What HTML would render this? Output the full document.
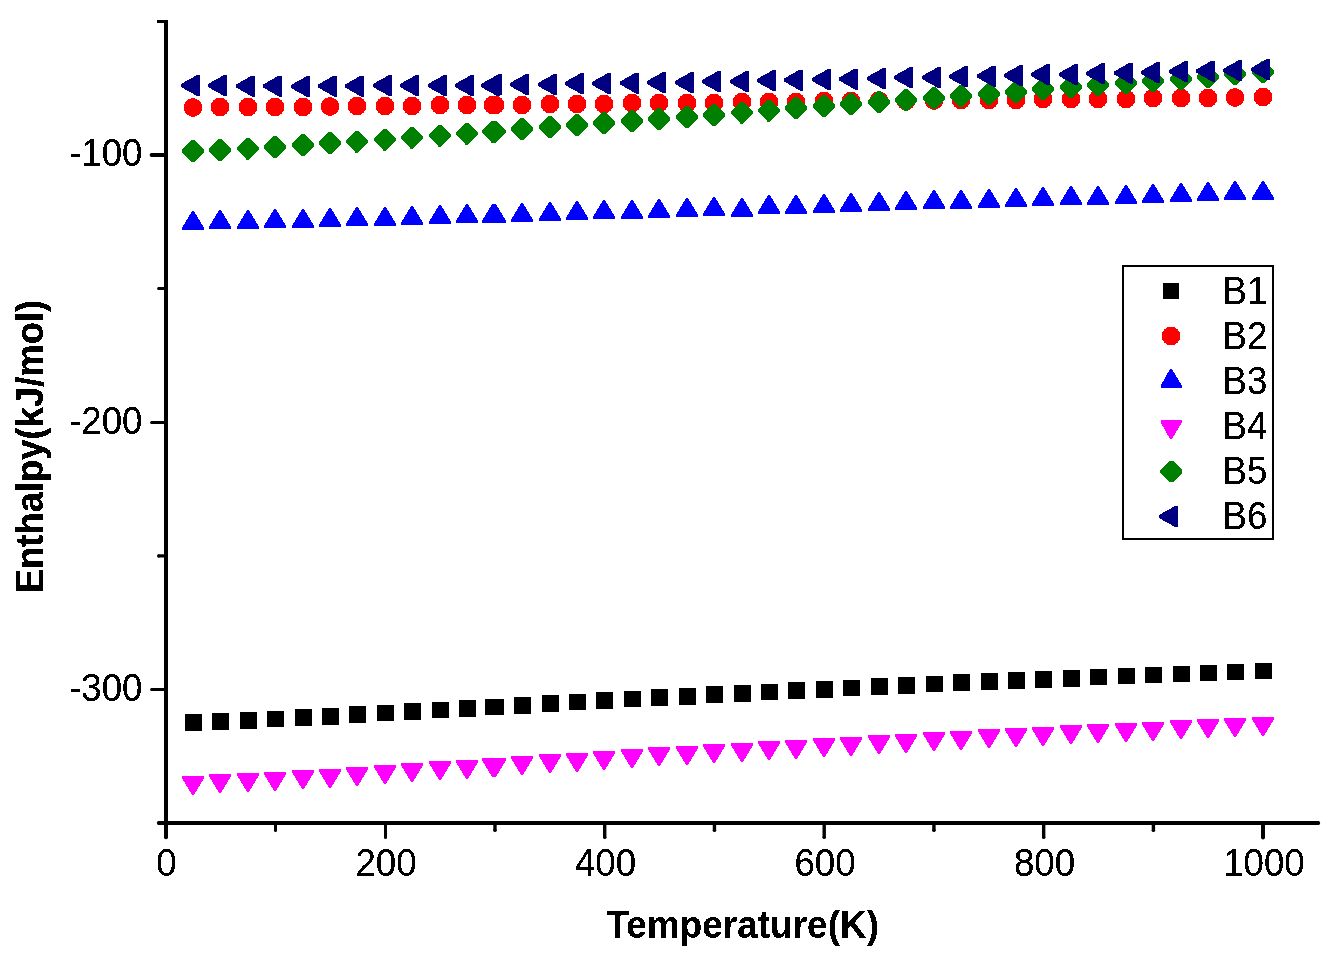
<!DOCTYPE html>
<html lang="en"><head><meta charset="utf-8"><title>Enthalpy vs Temperature</title>
<style>html,body{margin:0;padding:0;background:#fff;}body{width:1342px;height:963px;overflow:hidden;}svg{display:block;}text{font-family:"Liberation Sans",Arial,sans-serif;font-size:36.67px;fill:#000;}.b{font-weight:bold;}</style></head><body>
<svg width="1342" height="963" viewBox="0 0 1342 963">
<defs><filter id="na" x="-2%" y="-10%" width="104%" height="120%" color-interpolation-filters="sRGB"><feComponentTransfer><feFuncA type="discrete" tableValues="0 0 1 1 1"/></feComponentTransfer></filter></defs>
<rect x="0" y="0" width="1342" height="963" fill="#fff"/>
<g fill="#000000" shape-rendering="crispEdges">
<rect x="185.00" y="714.20" width="16.60" height="16.60"/>
<rect x="212.00" y="713.20" width="16.60" height="16.60"/>
<rect x="240.00" y="712.20" width="16.60" height="16.60"/>
<rect x="267.00" y="710.70" width="16.60" height="16.60"/>
<rect x="295.00" y="709.20" width="16.60" height="16.60"/>
<rect x="322.00" y="708.20" width="16.60" height="16.60"/>
<rect x="349.00" y="706.20" width="16.60" height="16.60"/>
<rect x="377.00" y="704.70" width="16.60" height="16.60"/>
<rect x="404.00" y="703.20" width="16.60" height="16.60"/>
<rect x="432.00" y="701.70" width="16.60" height="16.60"/>
<rect x="459.00" y="700.20" width="16.60" height="16.60"/>
<rect x="485.00" y="698.70" width="16.60" height="16.60"/>
<rect x="487.00" y="698.70" width="16.60" height="16.60"/>
<rect x="514.00" y="697.20" width="16.60" height="16.60"/>
<rect x="542.00" y="695.20" width="16.60" height="16.60"/>
<rect x="569.00" y="693.70" width="16.60" height="16.60"/>
<rect x="596.00" y="692.20" width="16.60" height="16.60"/>
<rect x="624.00" y="690.70" width="16.60" height="16.60"/>
<rect x="651.00" y="689.20" width="16.60" height="16.60"/>
<rect x="679.00" y="688.20" width="16.60" height="16.60"/>
<rect x="706.00" y="686.20" width="16.60" height="16.60"/>
<rect x="734.00" y="685.20" width="16.60" height="16.60"/>
<rect x="761.00" y="683.70" width="16.60" height="16.60"/>
<rect x="788.00" y="682.20" width="16.60" height="16.60"/>
<rect x="816.00" y="681.20" width="16.60" height="16.60"/>
<rect x="843.00" y="679.70" width="16.60" height="16.60"/>
<rect x="871.00" y="678.20" width="16.60" height="16.60"/>
<rect x="898.00" y="677.20" width="16.60" height="16.60"/>
<rect x="926.00" y="675.70" width="16.60" height="16.60"/>
<rect x="953.00" y="674.20" width="16.60" height="16.60"/>
<rect x="981.00" y="673.20" width="16.60" height="16.60"/>
<rect x="1008.00" y="672.20" width="16.60" height="16.60"/>
<rect x="1035.00" y="671.20" width="16.60" height="16.60"/>
<rect x="1063.00" y="670.20" width="16.60" height="16.60"/>
<rect x="1090.00" y="668.70" width="16.60" height="16.60"/>
<rect x="1118.00" y="667.70" width="16.60" height="16.60"/>
<rect x="1145.00" y="666.70" width="16.60" height="16.60"/>
<rect x="1173.00" y="665.70" width="16.60" height="16.60"/>
<rect x="1200.00" y="664.70" width="16.60" height="16.60"/>
<rect x="1227.00" y="663.70" width="16.60" height="16.60"/>
<rect x="1255.00" y="662.70" width="16.60" height="16.60"/>
</g>
<g fill="#ff0000" shape-rendering="crispEdges">
<circle cx="193.00" cy="107.50" r="9.30"/>
<circle cx="220.00" cy="107.00" r="9.30"/>
<circle cx="248.00" cy="107.00" r="9.30"/>
<circle cx="275.00" cy="107.00" r="9.30"/>
<circle cx="303.00" cy="107.00" r="9.30"/>
<circle cx="330.00" cy="106.50" r="9.30"/>
<circle cx="357.00" cy="106.00" r="9.30"/>
<circle cx="385.00" cy="106.00" r="9.30"/>
<circle cx="412.00" cy="106.00" r="9.30"/>
<circle cx="440.00" cy="105.00" r="9.30"/>
<circle cx="467.00" cy="105.00" r="9.30"/>
<circle cx="493.00" cy="105.00" r="9.30"/>
<circle cx="495.00" cy="105.00" r="9.30"/>
<circle cx="522.00" cy="105.00" r="9.30"/>
<circle cx="550.00" cy="104.00" r="9.30"/>
<circle cx="577.00" cy="104.00" r="9.30"/>
<circle cx="604.00" cy="104.00" r="9.30"/>
<circle cx="632.00" cy="103.00" r="9.30"/>
<circle cx="659.00" cy="103.00" r="9.30"/>
<circle cx="687.00" cy="103.00" r="9.30"/>
<circle cx="714.00" cy="103.00" r="9.30"/>
<circle cx="742.00" cy="102.00" r="9.30"/>
<circle cx="769.00" cy="102.00" r="9.30"/>
<circle cx="796.00" cy="102.00" r="9.30"/>
<circle cx="824.00" cy="101.00" r="9.30"/>
<circle cx="851.00" cy="101.00" r="9.30"/>
<circle cx="879.00" cy="100.50" r="9.30"/>
<circle cx="906.00" cy="101.00" r="9.30"/>
<circle cx="934.00" cy="100.50" r="9.30"/>
<circle cx="961.00" cy="100.00" r="9.30"/>
<circle cx="989.00" cy="100.00" r="9.30"/>
<circle cx="1016.00" cy="100.00" r="9.30"/>
<circle cx="1043.00" cy="99.00" r="9.30"/>
<circle cx="1071.00" cy="99.00" r="9.30"/>
<circle cx="1098.00" cy="99.00" r="9.30"/>
<circle cx="1126.00" cy="99.00" r="9.30"/>
<circle cx="1153.00" cy="98.00" r="9.30"/>
<circle cx="1181.00" cy="98.00" r="9.30"/>
<circle cx="1208.00" cy="98.00" r="9.30"/>
<circle cx="1235.00" cy="97.50" r="9.30"/>
<circle cx="1263.00" cy="97.00" r="9.30"/>
</g>
<g fill="#0000ff" shape-rendering="crispEdges">
<polygon points="192.00,211.00 194.00,211.00 204.00,228.00 204.00,230.00 182.00,230.00 182.00,228.00"/>
<polygon points="219.00,210.00 221.00,210.00 231.00,227.00 231.00,229.00 209.00,229.00 209.00,227.00"/>
<polygon points="247.00,210.00 249.00,210.00 259.00,227.00 259.00,229.00 237.00,229.00 237.00,227.00"/>
<polygon points="274.00,209.00 276.00,209.00 286.00,226.00 286.00,228.00 264.00,228.00 264.00,226.00"/>
<polygon points="302.00,209.00 304.00,209.00 314.00,226.00 314.00,228.00 292.00,228.00 292.00,226.00"/>
<polygon points="329.00,208.00 331.00,208.00 341.00,225.00 341.00,227.00 319.00,227.00 319.00,225.00"/>
<polygon points="356.00,207.00 358.00,207.00 368.00,224.00 368.00,226.00 346.00,226.00 346.00,224.00"/>
<polygon points="384.00,207.00 386.00,207.00 396.00,224.00 396.00,226.00 374.00,226.00 374.00,224.00"/>
<polygon points="411.00,206.00 413.00,206.00 423.00,223.00 423.00,225.00 401.00,225.00 401.00,223.00"/>
<polygon points="439.00,205.00 441.00,205.00 451.00,222.00 451.00,224.00 429.00,224.00 429.00,222.00"/>
<polygon points="466.00,204.00 468.00,204.00 478.00,221.00 478.00,223.00 456.00,223.00 456.00,221.00"/>
<polygon points="492.00,204.00 494.00,204.00 504.00,221.00 504.00,223.00 482.00,223.00 482.00,221.00"/>
<polygon points="494.00,204.00 496.00,204.00 506.00,221.00 506.00,223.00 484.00,223.00 484.00,221.00"/>
<polygon points="521.00,203.00 523.00,203.00 533.00,220.00 533.00,222.00 511.00,222.00 511.00,220.00"/>
<polygon points="549.00,202.00 551.00,202.00 561.00,219.00 561.00,221.00 539.00,221.00 539.00,219.00"/>
<polygon points="576.00,201.00 578.00,201.00 588.00,218.00 588.00,220.00 566.00,220.00 566.00,218.00"/>
<polygon points="603.00,200.00 605.00,200.00 615.00,217.00 615.00,219.00 593.00,219.00 593.00,217.00"/>
<polygon points="631.00,200.00 633.00,200.00 643.00,217.00 643.00,219.00 621.00,219.00 621.00,217.00"/>
<polygon points="658.00,199.00 660.00,199.00 670.00,216.00 670.00,218.00 648.00,218.00 648.00,216.00"/>
<polygon points="686.00,198.00 688.00,198.00 698.00,215.00 698.00,217.00 676.00,217.00 676.00,215.00"/>
<polygon points="713.00,197.00 715.00,197.00 725.00,214.00 725.00,216.00 703.00,216.00 703.00,214.00"/>
<polygon points="741.00,198.00 743.00,198.00 753.00,215.00 753.00,217.00 731.00,217.00 731.00,215.00"/>
<polygon points="768.00,195.00 770.00,195.00 780.00,212.00 780.00,214.00 758.00,214.00 758.00,212.00"/>
<polygon points="795.00,195.00 797.00,195.00 807.00,212.00 807.00,214.00 785.00,214.00 785.00,212.00"/>
<polygon points="823.00,194.00 825.00,194.00 835.00,211.00 835.00,213.00 813.00,213.00 813.00,211.00"/>
<polygon points="850.00,193.00 852.00,193.00 862.00,210.00 862.00,212.00 840.00,212.00 840.00,210.00"/>
<polygon points="878.00,192.00 880.00,192.00 890.00,209.00 890.00,211.00 868.00,211.00 868.00,209.00"/>
<polygon points="905.00,191.00 907.00,191.00 917.00,208.00 917.00,210.00 895.00,210.00 895.00,208.00"/>
<polygon points="933.00,190.00 935.00,190.00 945.00,207.00 945.00,209.00 923.00,209.00 923.00,207.00"/>
<polygon points="960.00,190.00 962.00,190.00 972.00,207.00 972.00,209.00 950.00,209.00 950.00,207.00"/>
<polygon points="988.00,189.00 990.00,189.00 1000.00,206.00 1000.00,208.00 978.00,208.00 978.00,206.00"/>
<polygon points="1015.00,188.00 1017.00,188.00 1027.00,205.00 1027.00,207.00 1005.00,207.00 1005.00,205.00"/>
<polygon points="1042.00,187.00 1044.00,187.00 1054.00,204.00 1054.00,206.00 1032.00,206.00 1032.00,204.00"/>
<polygon points="1070.00,186.00 1072.00,186.00 1082.00,203.00 1082.00,205.00 1060.00,205.00 1060.00,203.00"/>
<polygon points="1097.00,186.00 1099.00,186.00 1109.00,203.00 1109.00,205.00 1087.00,205.00 1087.00,203.00"/>
<polygon points="1125.00,185.00 1127.00,185.00 1137.00,202.00 1137.00,204.00 1115.00,204.00 1115.00,202.00"/>
<polygon points="1152.00,184.00 1154.00,184.00 1164.00,201.00 1164.00,203.00 1142.00,203.00 1142.00,201.00"/>
<polygon points="1180.00,183.00 1182.00,183.00 1192.00,200.00 1192.00,202.00 1170.00,202.00 1170.00,200.00"/>
<polygon points="1207.00,182.00 1209.00,182.00 1219.00,199.00 1219.00,201.00 1197.00,201.00 1197.00,199.00"/>
<polygon points="1234.00,181.00 1236.00,181.00 1246.00,198.00 1246.00,200.00 1224.00,200.00 1224.00,198.00"/>
<polygon points="1262.00,181.00 1264.00,181.00 1274.00,198.00 1274.00,200.00 1252.00,200.00 1252.00,198.00"/>
</g>
<g fill="#ff00ff" shape-rendering="crispEdges">
<polygon points="182.00,776.00 204.00,776.00 204.00,778.00 194.00,795.00 192.00,795.00 182.00,778.00"/>
<polygon points="209.00,774.00 231.00,774.00 231.00,776.00 221.00,793.00 219.00,793.00 209.00,776.00"/>
<polygon points="237.00,773.00 259.00,773.00 259.00,775.00 249.00,792.00 247.00,792.00 237.00,775.00"/>
<polygon points="264.00,772.00 286.00,772.00 286.00,774.00 276.00,791.00 274.00,791.00 264.00,774.00"/>
<polygon points="292.00,770.00 314.00,770.00 314.00,772.00 304.00,789.00 302.00,789.00 292.00,772.00"/>
<polygon points="319.00,769.00 341.00,769.00 341.00,771.00 331.00,788.00 329.00,788.00 319.00,771.00"/>
<polygon points="346.00,767.00 368.00,767.00 368.00,769.00 358.00,786.00 356.00,786.00 346.00,769.00"/>
<polygon points="374.00,765.00 396.00,765.00 396.00,767.00 386.00,784.00 384.00,784.00 374.00,767.00"/>
<polygon points="401.00,763.00 423.00,763.00 423.00,765.00 413.00,782.00 411.00,782.00 401.00,765.00"/>
<polygon points="429.00,761.00 451.00,761.00 451.00,763.00 441.00,780.00 439.00,780.00 429.00,763.00"/>
<polygon points="456.00,760.00 478.00,760.00 478.00,762.00 468.00,779.00 466.00,779.00 456.00,762.00"/>
<polygon points="482.00,758.00 504.00,758.00 504.00,760.00 494.00,777.00 492.00,777.00 482.00,760.00"/>
<polygon points="484.00,758.00 506.00,758.00 506.00,760.00 496.00,777.00 494.00,777.00 484.00,760.00"/>
<polygon points="511.00,756.00 533.00,756.00 533.00,758.00 523.00,775.00 521.00,775.00 511.00,758.00"/>
<polygon points="539.00,754.00 561.00,754.00 561.00,756.00 551.00,773.00 549.00,773.00 539.00,756.00"/>
<polygon points="566.00,753.00 588.00,753.00 588.00,755.00 578.00,772.00 576.00,772.00 566.00,755.00"/>
<polygon points="593.00,751.00 615.00,751.00 615.00,753.00 605.00,770.00 603.00,770.00 593.00,753.00"/>
<polygon points="621.00,749.00 643.00,749.00 643.00,751.00 633.00,768.00 631.00,768.00 621.00,751.00"/>
<polygon points="648.00,747.00 670.00,747.00 670.00,749.00 660.00,766.00 658.00,766.00 648.00,749.00"/>
<polygon points="676.00,746.00 698.00,746.00 698.00,748.00 688.00,765.00 686.00,765.00 676.00,748.00"/>
<polygon points="703.00,744.00 725.00,744.00 725.00,746.00 715.00,763.00 713.00,763.00 703.00,746.00"/>
<polygon points="731.00,743.00 753.00,743.00 753.00,745.00 743.00,762.00 741.00,762.00 731.00,745.00"/>
<polygon points="758.00,741.00 780.00,741.00 780.00,743.00 770.00,760.00 768.00,760.00 758.00,743.00"/>
<polygon points="785.00,740.00 807.00,740.00 807.00,742.00 797.00,759.00 795.00,759.00 785.00,742.00"/>
<polygon points="813.00,738.00 835.00,738.00 835.00,740.00 825.00,757.00 823.00,757.00 813.00,740.00"/>
<polygon points="840.00,737.00 862.00,737.00 862.00,739.00 852.00,756.00 850.00,756.00 840.00,739.00"/>
<polygon points="868.00,735.00 890.00,735.00 890.00,737.00 880.00,754.00 878.00,754.00 868.00,737.00"/>
<polygon points="895.00,734.00 917.00,734.00 917.00,736.00 907.00,753.00 905.00,753.00 895.00,736.00"/>
<polygon points="923.00,732.00 945.00,732.00 945.00,734.00 935.00,751.00 933.00,751.00 923.00,734.00"/>
<polygon points="950.00,731.00 972.00,731.00 972.00,733.00 962.00,750.00 960.00,750.00 950.00,733.00"/>
<polygon points="978.00,729.00 1000.00,729.00 1000.00,731.00 990.00,748.00 988.00,748.00 978.00,731.00"/>
<polygon points="1005.00,728.00 1027.00,728.00 1027.00,730.00 1017.00,747.00 1015.00,747.00 1005.00,730.00"/>
<polygon points="1032.00,727.00 1054.00,727.00 1054.00,729.00 1044.00,746.00 1042.00,746.00 1032.00,729.00"/>
<polygon points="1060.00,725.00 1082.00,725.00 1082.00,727.00 1072.00,744.00 1070.00,744.00 1060.00,727.00"/>
<polygon points="1087.00,724.00 1109.00,724.00 1109.00,726.00 1099.00,743.00 1097.00,743.00 1087.00,726.00"/>
<polygon points="1115.00,723.00 1137.00,723.00 1137.00,725.00 1127.00,742.00 1125.00,742.00 1115.00,725.00"/>
<polygon points="1142.00,722.00 1164.00,722.00 1164.00,724.00 1154.00,741.00 1152.00,741.00 1142.00,724.00"/>
<polygon points="1170.00,720.00 1192.00,720.00 1192.00,722.00 1182.00,739.00 1180.00,739.00 1170.00,722.00"/>
<polygon points="1197.00,719.00 1219.00,719.00 1219.00,721.00 1209.00,738.00 1207.00,738.00 1197.00,721.00"/>
<polygon points="1224.00,718.00 1246.00,718.00 1246.00,720.00 1236.00,737.00 1234.00,737.00 1224.00,720.00"/>
<polygon points="1252.00,717.00 1274.00,717.00 1274.00,719.00 1264.00,736.00 1262.00,736.00 1252.00,719.00"/>
</g>
<g fill="#008000" shape-rendering="crispEdges">
<polygon points="182.00,150.00 191.50,140.00 194.50,140.00 204.00,150.00 204.00,152.00 194.50,162.00 191.50,162.00 182.00,152.00"/>
<polygon points="209.00,149.00 218.50,139.00 221.50,139.00 231.00,149.00 231.00,151.00 221.50,161.00 218.50,161.00 209.00,151.00"/>
<polygon points="237.00,147.50 246.50,137.50 249.50,137.50 259.00,147.50 259.00,149.50 249.50,159.50 246.50,159.50 237.00,149.50"/>
<polygon points="264.00,146.00 273.50,136.00 276.50,136.00 286.00,146.00 286.00,148.00 276.50,158.00 273.50,158.00 264.00,148.00"/>
<polygon points="292.00,144.00 301.50,134.00 304.50,134.00 314.00,144.00 314.00,146.00 304.50,156.00 301.50,156.00 292.00,146.00"/>
<polygon points="319.00,142.00 328.50,132.00 331.50,132.00 341.00,142.00 341.00,144.00 331.50,154.00 328.50,154.00 319.00,144.00"/>
<polygon points="346.00,140.50 355.50,130.50 358.50,130.50 368.00,140.50 368.00,142.50 358.50,152.50 355.50,152.50 346.00,142.50"/>
<polygon points="374.00,138.50 383.50,128.50 386.50,128.50 396.00,138.50 396.00,140.50 386.50,150.50 383.50,150.50 374.00,140.50"/>
<polygon points="401.00,136.50 410.50,126.50 413.50,126.50 423.00,136.50 423.00,138.50 413.50,148.50 410.50,148.50 401.00,138.50"/>
<polygon points="429.00,134.50 438.50,124.50 441.50,124.50 451.00,134.50 451.00,136.50 441.50,146.50 438.50,146.50 429.00,136.50"/>
<polygon points="456.00,132.50 465.50,122.50 468.50,122.50 478.00,132.50 478.00,134.50 468.50,144.50 465.50,144.50 456.00,134.50"/>
<polygon points="482.00,130.50 491.50,120.50 494.50,120.50 504.00,130.50 504.00,132.50 494.50,142.50 491.50,142.50 482.00,132.50"/>
<polygon points="484.00,130.50 493.50,120.50 496.50,120.50 506.00,130.50 506.00,132.50 496.50,142.50 493.50,142.50 484.00,132.50"/>
<polygon points="511.00,128.00 520.50,118.00 523.50,118.00 533.00,128.00 533.00,130.00 523.50,140.00 520.50,140.00 511.00,130.00"/>
<polygon points="539.00,126.00 548.50,116.00 551.50,116.00 561.00,126.00 561.00,128.00 551.50,138.00 548.50,138.00 539.00,128.00"/>
<polygon points="566.00,124.00 575.50,114.00 578.50,114.00 588.00,124.00 588.00,126.00 578.50,136.00 575.50,136.00 566.00,126.00"/>
<polygon points="593.00,122.00 602.50,112.00 605.50,112.00 615.00,122.00 615.00,124.00 605.50,134.00 602.50,134.00 593.00,124.00"/>
<polygon points="621.00,120.00 630.50,110.00 633.50,110.00 643.00,120.00 643.00,122.00 633.50,132.00 630.50,132.00 621.00,122.00"/>
<polygon points="648.00,118.00 657.50,108.00 660.50,108.00 670.00,118.00 670.00,120.00 660.50,130.00 657.50,130.00 648.00,120.00"/>
<polygon points="676.00,116.00 685.50,106.00 688.50,106.00 698.00,116.00 698.00,118.00 688.50,128.00 685.50,128.00 676.00,118.00"/>
<polygon points="703.00,114.00 712.50,104.00 715.50,104.00 725.00,114.00 725.00,116.00 715.50,126.00 712.50,126.00 703.00,116.00"/>
<polygon points="731.00,111.50 740.50,101.50 743.50,101.50 753.00,111.50 753.00,113.50 743.50,123.50 740.50,123.50 731.00,113.50"/>
<polygon points="758.00,109.50 767.50,99.50 770.50,99.50 780.00,109.50 780.00,111.50 770.50,121.50 767.50,121.50 758.00,111.50"/>
<polygon points="785.00,107.00 794.50,97.00 797.50,97.00 807.00,107.00 807.00,109.00 797.50,119.00 794.50,119.00 785.00,109.00"/>
<polygon points="813.00,105.00 822.50,95.00 825.50,95.00 835.00,105.00 835.00,107.00 825.50,117.00 822.50,117.00 813.00,107.00"/>
<polygon points="840.00,103.00 849.50,93.00 852.50,93.00 862.00,103.00 862.00,105.00 852.50,115.00 849.50,115.00 840.00,105.00"/>
<polygon points="868.00,101.00 877.50,91.00 880.50,91.00 890.00,101.00 890.00,103.00 880.50,113.00 877.50,113.00 868.00,103.00"/>
<polygon points="895.00,99.00 904.50,89.00 907.50,89.00 917.00,99.00 917.00,101.00 907.50,111.00 904.50,111.00 895.00,101.00"/>
<polygon points="923.00,97.00 932.50,87.00 935.50,87.00 945.00,97.00 945.00,99.00 935.50,109.00 932.50,109.00 923.00,99.00"/>
<polygon points="950.00,95.00 959.50,85.00 962.50,85.00 972.00,95.00 972.00,97.00 962.50,107.00 959.50,107.00 950.00,97.00"/>
<polygon points="978.00,93.00 987.50,83.00 990.50,83.00 1000.00,93.00 1000.00,95.00 990.50,105.00 987.50,105.00 978.00,95.00"/>
<polygon points="1005.00,91.00 1014.50,81.00 1017.50,81.00 1027.00,91.00 1027.00,93.00 1017.50,103.00 1014.50,103.00 1005.00,93.00"/>
<polygon points="1032.00,88.00 1041.50,78.00 1044.50,78.00 1054.00,88.00 1054.00,90.00 1044.50,100.00 1041.50,100.00 1032.00,90.00"/>
<polygon points="1060.00,86.00 1069.50,76.00 1072.50,76.00 1082.00,86.00 1082.00,88.00 1072.50,98.00 1069.50,98.00 1060.00,88.00"/>
<polygon points="1087.00,84.00 1096.50,74.00 1099.50,74.00 1109.00,84.00 1109.00,86.00 1099.50,96.00 1096.50,96.00 1087.00,86.00"/>
<polygon points="1115.00,82.00 1124.50,72.00 1127.50,72.00 1137.00,82.00 1137.00,84.00 1127.50,94.00 1124.50,94.00 1115.00,84.00"/>
<polygon points="1142.00,80.00 1151.50,70.00 1154.50,70.00 1164.00,80.00 1164.00,82.00 1154.50,92.00 1151.50,92.00 1142.00,82.00"/>
<polygon points="1170.00,78.00 1179.50,68.00 1182.50,68.00 1192.00,78.00 1192.00,80.00 1182.50,90.00 1179.50,90.00 1170.00,80.00"/>
<polygon points="1197.00,76.00 1206.50,66.00 1209.50,66.00 1219.00,76.00 1219.00,78.00 1209.50,88.00 1206.50,88.00 1197.00,78.00"/>
<polygon points="1224.00,73.00 1233.50,63.00 1236.50,63.00 1246.00,73.00 1246.00,75.00 1236.50,85.00 1233.50,85.00 1224.00,75.00"/>
<polygon points="1252.00,71.00 1261.50,61.00 1264.50,61.00 1274.00,71.00 1274.00,73.00 1264.50,83.00 1261.50,83.00 1252.00,73.00"/>
</g>
<g fill="#000080" shape-rendering="crispEdges">
<polygon points="181.00,84.00 181.00,87.00 197.00,96.00 200.00,96.00 200.00,75.00 197.00,75.00"/>
<polygon points="208.00,84.00 208.00,87.00 224.00,96.00 227.00,96.00 227.00,75.00 224.00,75.00"/>
<polygon points="236.00,84.50 236.00,87.50 252.00,96.50 255.00,96.50 255.00,75.50 252.00,75.50"/>
<polygon points="263.00,84.50 263.00,87.50 279.00,96.50 282.00,96.50 282.00,75.50 279.00,75.50"/>
<polygon points="291.00,85.00 291.00,88.00 307.00,97.00 310.00,97.00 310.00,76.00 307.00,76.00"/>
<polygon points="318.00,84.50 318.00,87.50 334.00,96.50 337.00,96.50 337.00,75.50 334.00,75.50"/>
<polygon points="345.00,84.50 345.00,87.50 361.00,96.50 364.00,96.50 364.00,75.50 361.00,75.50"/>
<polygon points="373.00,84.00 373.00,87.00 389.00,96.00 392.00,96.00 392.00,75.00 389.00,75.00"/>
<polygon points="400.00,84.00 400.00,87.00 416.00,96.00 419.00,96.00 419.00,75.00 416.00,75.00"/>
<polygon points="428.00,84.00 428.00,87.00 444.00,96.00 447.00,96.00 447.00,75.00 444.00,75.00"/>
<polygon points="455.00,84.00 455.00,87.00 471.00,96.00 474.00,96.00 474.00,75.00 471.00,75.00"/>
<polygon points="481.00,84.00 481.00,87.00 497.00,96.00 500.00,96.00 500.00,75.00 497.00,75.00"/>
<polygon points="483.00,83.00 483.00,86.00 499.00,95.00 502.00,95.00 502.00,74.00 499.00,74.00"/>
<polygon points="510.00,83.00 510.00,86.00 526.00,95.00 529.00,95.00 529.00,74.00 526.00,74.00"/>
<polygon points="538.00,83.00 538.00,86.00 554.00,95.00 557.00,95.00 557.00,74.00 554.00,74.00"/>
<polygon points="565.00,82.00 565.00,85.00 581.00,94.00 584.00,94.00 584.00,73.00 581.00,73.00"/>
<polygon points="592.00,82.00 592.00,85.00 608.00,94.00 611.00,94.00 611.00,73.00 608.00,73.00"/>
<polygon points="620.00,81.50 620.00,84.50 636.00,93.50 639.00,93.50 639.00,72.50 636.00,72.50"/>
<polygon points="647.00,81.00 647.00,84.00 663.00,93.00 666.00,93.00 666.00,72.00 663.00,72.00"/>
<polygon points="675.00,81.00 675.00,84.00 691.00,93.00 694.00,93.00 694.00,72.00 691.00,72.00"/>
<polygon points="702.00,80.00 702.00,83.00 718.00,92.00 721.00,92.00 721.00,71.00 718.00,71.00"/>
<polygon points="730.00,80.00 730.00,83.00 746.00,92.00 749.00,92.00 749.00,71.00 746.00,71.00"/>
<polygon points="757.00,79.00 757.00,82.00 773.00,91.00 776.00,91.00 776.00,70.00 773.00,70.00"/>
<polygon points="784.00,78.50 784.00,81.50 800.00,90.50 803.00,90.50 803.00,69.50 800.00,69.50"/>
<polygon points="812.00,78.00 812.00,81.00 828.00,90.00 831.00,90.00 831.00,69.00 828.00,69.00"/>
<polygon points="839.00,77.50 839.00,80.50 855.00,89.50 858.00,89.50 858.00,68.50 855.00,68.50"/>
<polygon points="867.00,77.00 867.00,80.00 883.00,89.00 886.00,89.00 886.00,68.00 883.00,68.00"/>
<polygon points="894.00,76.00 894.00,79.00 910.00,88.00 913.00,88.00 913.00,67.00 910.00,67.00"/>
<polygon points="922.00,76.00 922.00,79.00 938.00,88.00 941.00,88.00 941.00,67.00 938.00,67.00"/>
<polygon points="949.00,75.00 949.00,78.00 965.00,87.00 968.00,87.00 968.00,66.00 965.00,66.00"/>
<polygon points="977.00,74.50 977.00,77.50 993.00,86.50 996.00,86.50 996.00,65.50 993.00,65.50"/>
<polygon points="1004.00,74.00 1004.00,77.00 1020.00,86.00 1023.00,86.00 1023.00,65.00 1020.00,65.00"/>
<polygon points="1031.00,73.00 1031.00,76.00 1047.00,85.00 1050.00,85.00 1050.00,64.00 1047.00,64.00"/>
<polygon points="1059.00,73.00 1059.00,76.00 1075.00,85.00 1078.00,85.00 1078.00,64.00 1075.00,64.00"/>
<polygon points="1086.00,72.00 1086.00,75.00 1102.00,84.00 1105.00,84.00 1105.00,63.00 1102.00,63.00"/>
<polygon points="1114.00,71.50 1114.00,74.50 1130.00,83.50 1133.00,83.50 1133.00,62.50 1130.00,62.50"/>
<polygon points="1141.00,71.00 1141.00,74.00 1157.00,83.00 1160.00,83.00 1160.00,62.00 1157.00,62.00"/>
<polygon points="1169.00,70.00 1169.00,73.00 1185.00,82.00 1188.00,82.00 1188.00,61.00 1185.00,61.00"/>
<polygon points="1196.00,69.50 1196.00,72.50 1212.00,81.50 1215.00,81.50 1215.00,60.50 1212.00,60.50"/>
<polygon points="1223.00,69.00 1223.00,72.00 1239.00,81.00 1242.00,81.00 1242.00,60.00 1239.00,60.00"/>
<polygon points="1251.00,68.00 1251.00,71.00 1267.00,80.00 1270.00,80.00 1270.00,59.00 1267.00,59.00"/>
</g>
<g fill="#000" stroke="none">
<rect x="164" y="21" width="4" height="817"/>
<rect x="158" y="821" width="1161" height="4"/>
<circle cx="1318.2" cy="823" r="2"/>
<circle cx="158.8" cy="823" r="2"/><circle cx="166" cy="837.2" r="2"/>
<rect x="151" y="153.00" width="14" height="4.00"/><circle cx="151.6" cy="155.00" r="2.00"/>
<rect x="151" y="421.00" width="14" height="3.00"/><circle cx="151.6" cy="422.50" r="1.50"/>
<rect x="151" y="688.00" width="14" height="3.00"/><circle cx="151.6" cy="689.50" r="1.50"/>
<rect x="158" y="287.00" width="7" height="3.00"/><circle cx="158.6" cy="288.50" r="1.50"/>
<rect x="158" y="554.30" width="7" height="3.20"/><circle cx="158.6" cy="555.90" r="1.60"/>
<rect x="157" y="20" width="11" height="3"/>
<rect x="384.00" y="823" width="3.00" height="15"/><circle cx="385.50" cy="837.4" r="1.50"/>
<rect x="603.01" y="823" width="3.40" height="15"/><circle cx="604.71" cy="837.4" r="1.70"/>
<rect x="822.49" y="823" width="3.40" height="15"/><circle cx="824.19" cy="837.4" r="1.70"/>
<rect x="1041.97" y="823" width="3.40" height="15"/><circle cx="1043.67" cy="837.4" r="1.70"/>
<rect x="1261.00" y="823" width="4.00" height="15"/><circle cx="1263.00" cy="837.4" r="2.00"/>
<rect x="274.00" y="823" width="3.00" height="8"/><circle cx="275.50" cy="830.4" r="1.50"/>
<rect x="493.27" y="823" width="3.40" height="8"/><circle cx="494.97" cy="830.4" r="1.70"/>
<rect x="712.75" y="823" width="3.40" height="8"/><circle cx="714.45" cy="830.4" r="1.70"/>
<rect x="932.23" y="823" width="3.40" height="8"/><circle cx="933.93" cy="830.4" r="1.70"/>
<rect x="1151.71" y="823" width="3.40" height="8"/><circle cx="1153.41" cy="830.4" r="1.70"/>
</g>
<text filter="url(#na)" transform="translate(142.50,166.30) scale(1,1.040)" text-anchor="end">-100</text>
<text filter="url(#na)" transform="translate(142.50,434.00) scale(1,1.040)" text-anchor="end">-200</text>
<text filter="url(#na)" transform="translate(142.50,701.00) scale(1,1.040)" text-anchor="end">-300</text>
<text filter="url(#na)" transform="translate(166.55,876.00) scale(1,1.040)" text-anchor="middle">0</text>
<text filter="url(#na)" transform="translate(386.03,876.00) scale(1,1.040)" text-anchor="middle">200</text>
<text filter="url(#na)" transform="translate(605.51,876.00) scale(1,1.040)" text-anchor="middle">400</text>
<text filter="url(#na)" transform="translate(824.99,876.00) scale(1,1.040)" text-anchor="middle">600</text>
<text filter="url(#na)" transform="translate(1044.47,876.00) scale(1,1.040)" text-anchor="middle">800</text>
<text filter="url(#na)" transform="translate(1263.95,876.00) scale(1,1.040)" text-anchor="middle">1000</text>
<text filter="url(#na)" class="b" transform="translate(606.50,938.00) scale(1,1.040)" text-anchor="start" textLength="272.4" lengthAdjust="spacing">Temperature(K)</text>
<text filter="url(#na)" class="b" transform="translate(43.00,593.40) rotate(-90) scale(1,1.040)" text-anchor="start" textLength="293.6" lengthAdjust="spacing">Enthalpy(kJ/mol)</text>
<rect x="1123" y="266" width="150" height="273" fill="#fff" stroke="#000" stroke-width="2"/>
<g fill="#000000" shape-rendering="crispEdges"><rect x="1163.00" y="283.00" width="16.00" height="16.00"/></g>
<text filter="url(#na)" transform="translate(1222.50,304.30) scale(1,1.040)" text-anchor="start">B1</text>
<g fill="#ff0000" shape-rendering="crispEdges"><circle cx="1171.00" cy="336.00" r="9.30"/></g>
<text filter="url(#na)" transform="translate(1222.50,349.30) scale(1,1.040)" text-anchor="start">B2</text>
<g fill="#0000ff" shape-rendering="crispEdges"><polygon points="1170.00,369.00 1172.00,369.00 1182.00,386.00 1182.00,388.00 1161.00,388.00 1161.00,385.00"/></g>
<text filter="url(#na)" transform="translate(1222.50,394.30) scale(1,1.040)" text-anchor="start">B3</text>
<g fill="#ff00ff" shape-rendering="crispEdges"><polygon points="1161.00,420.00 1182.00,420.00 1182.00,422.00 1172.00,439.00 1170.00,439.00 1161.00,423.00"/></g>
<text filter="url(#na)" transform="translate(1222.50,439.30) scale(1,1.040)" text-anchor="start">B4</text>
<g fill="#008000" shape-rendering="crispEdges"><polygon points="1160.00,470.00 1169.00,461.00 1173.00,461.00 1182.00,470.00 1182.00,473.00 1173.00,482.00 1169.00,482.00 1160.00,473.00"/></g>
<text filter="url(#na)" transform="translate(1222.50,484.30) scale(1,1.040)" text-anchor="start">B5</text>
<g fill="#000080" shape-rendering="crispEdges"><polygon points="1159.00,515.00 1159.00,518.00 1175.00,527.00 1178.00,527.00 1178.00,506.00 1175.00,506.00"/></g>
<text filter="url(#na)" transform="translate(1222.50,529.30) scale(1,1.040)" text-anchor="start">B6</text>
</svg></body></html>
